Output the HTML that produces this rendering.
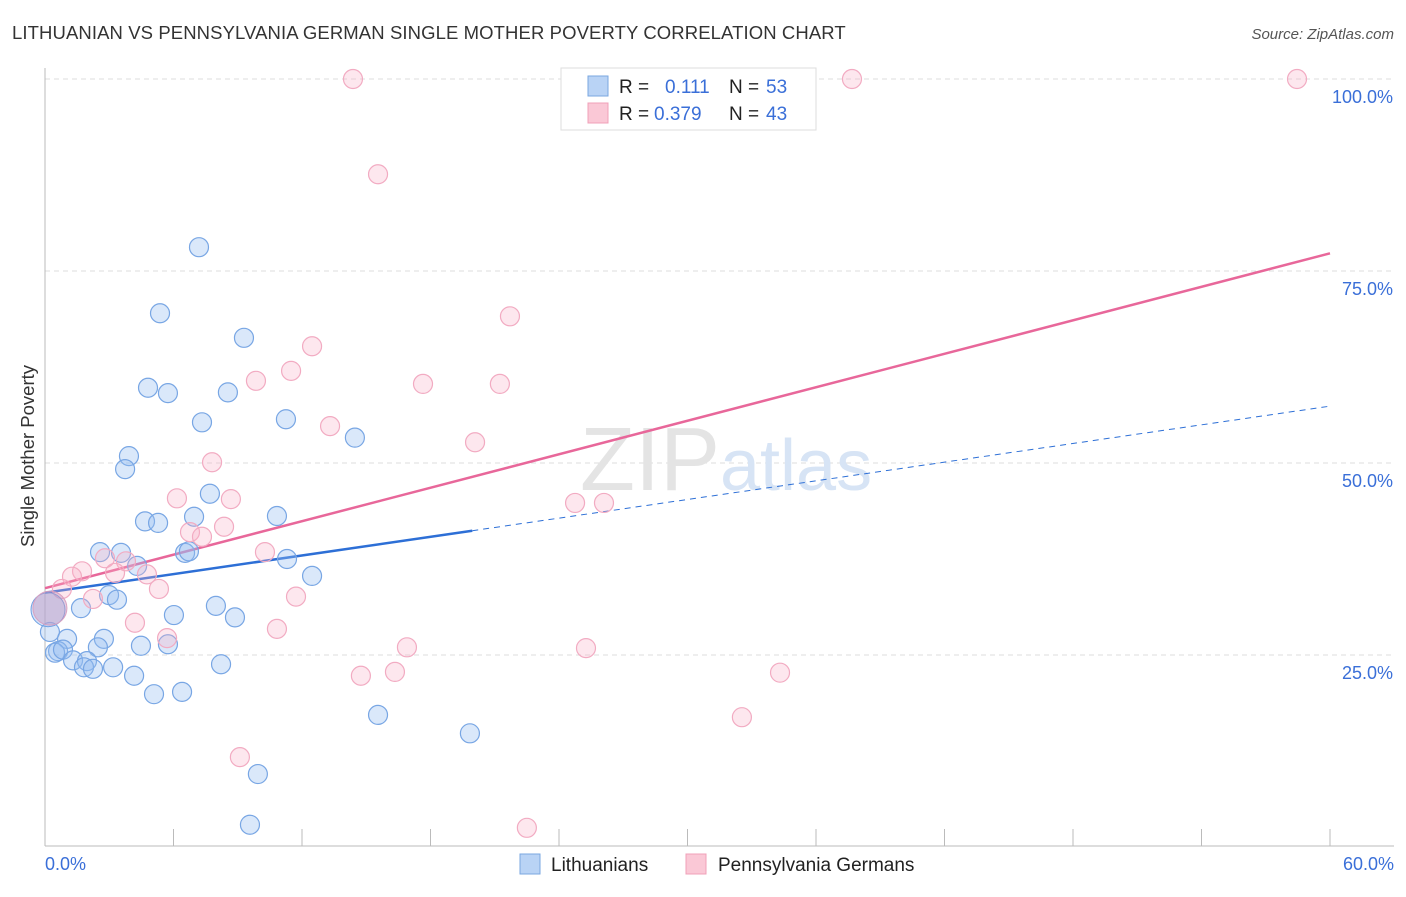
<!DOCTYPE html>
<html><head><meta charset="utf-8"><style>
body{margin:0;background:#fff;font-family:"Liberation Sans",sans-serif;}
svg text{font-family:"Liberation Sans",sans-serif;}
</style></head><body>
<svg id="chart" width="1406" height="892">
<text x="12" y="39" font-size="18.5" fill="#333" letter-spacing="0.1">LITHUANIAN VS PENNSYLVANIA GERMAN SINGLE MOTHER POVERTY CORRELATION CHART</text>
<text x="1394" y="39" font-size="15" fill="#555" font-style="italic" text-anchor="end">Source: ZipAtlas.com</text>
<text x="34" y="456" font-size="18.5" fill="#333" transform="rotate(-90 34 456)" text-anchor="middle">Single Mother Poverty</text>
<g id="grid"></g>
<text x="720" y="490" font-size="90" fill="#e4e4e4" font-family="Liberation Serif" text-anchor="end">ZIP</text>
<text x="720" y="490" font-size="72" fill="#d7e4f5">atlas</text>
<g id="trend"></g>
<g id="dots"></g>
<g>
<rect x="561" y="68" width="255" height="62" fill="#fff" stroke="#ddd"/>
<rect x="588" y="76" width="20" height="20" fill="#b9d3f5" stroke="#7aa7e0"/>
<rect x="588" y="103" width="20" height="20" fill="#fac8d6" stroke="#f0a0b8"/>
<text x="619" y="93" font-size="19" fill="#222">R = </text><text x="665" y="93" font-size="19" fill="#3a6fd8">0.111</text>
<text x="729" y="93" font-size="19" fill="#222">N = </text><text x="766" y="93" font-size="19" fill="#3a6fd8">53</text>
<text x="619" y="120" font-size="19" fill="#222">R = </text><text x="654" y="120" font-size="19" fill="#3a6fd8">0.379</text>
<text x="729" y="120" font-size="19" fill="#222">N = </text><text x="766" y="120" font-size="19" fill="#3a6fd8">43</text>
</g>
<g>
<rect x="520" y="854" width="20" height="20" fill="#b9d3f5" stroke="#7aa7e0"/>
<text x="551" y="871" font-size="19" fill="#222">Lithuanians</text>
<rect x="686" y="854" width="20" height="20" fill="#fac8d6" stroke="#f0a0b8"/>
<text x="718" y="871" font-size="19" fill="#222">Pennsylvania Germans</text>
</g>
</svg>
<script>
const yTicks=[25,50,75,100];
const xTickCount=10;
const blueX=[7.19,5.37,9.29,4.81,5.74,8.54,7.33,11.25,14.47,3.92,3.74,7.70,6.96,4.67,5.28,10.83,2.57,3.55,6.54,6.72,11.30,12.47,4.30,2.99,3.36,1.68,7.98,6.02,8.87,0.23,1.03,2.75,2.47,4.48,5.74,0.61,0.47,0.84,1.31,1.96,1.82,2.24,3.18,8.22,4.16,5.09,6.40,15.55,19.84,9.94,9.57];
const blueY=[78.1,69.5,66.3,59.8,59.1,59.2,55.3,55.7,53.3,50.9,49.2,46.0,43.0,42.4,42.2,43.1,38.4,38.3,38.3,38.5,37.5,35.3,36.6,32.8,32.2,31.1,31.4,30.2,29.9,28.0,27.1,27.1,26.0,26.2,26.4,25.5,25.3,25.7,24.3,24.2,23.4,23.2,23.4,23.8,22.3,19.9,20.2,17.2,14.8,9.5,2.9];
const pinkX=[14.38,37.68,58.46,15.55,21.71,12.47,11.49,9.85,17.65,21.24,13.31,20.08,7.80,6.16,8.68,8.36,6.77,7.33,24.75,26.10,10.27,2.80,3.78,1.73,1.26,3.27,4.76,0.79,5.32,2.24,11.72,4.20,10.83,5.70,16.90,25.26,14.75,16.34,34.32,32.54,9.10,22.50];
const pinkY=[100,100,100,87.6,69.1,65.2,62.0,60.7,60.3,60.3,54.8,52.7,50.1,45.4,45.3,41.7,41.0,40.4,44.8,44.8,38.4,37.6,37.2,35.9,35.2,35.7,35.5,33.6,33.6,32.3,32.6,29.2,28.4,27.2,26.0,25.9,22.3,22.8,22.7,16.9,11.7,2.5];
const bigBlue=[0.14,30.9];
const bigPink=[0.23,31.1];
const blueTrend=[33.1,57.4];
const blueSolidEnd=19.95;
const pinkTrend=[33.7,77.3];

const NS="http://www.w3.org/2000/svg";
const X=v=>45+v/60*1285;
const Y=v=>847-v*7.68;
function mk(tag,attrs,parent){const e=document.createElementNS(NS,tag);for(const k in attrs)e.setAttribute(k,attrs[k]);parent.appendChild(e);return e;}
const grid=document.getElementById('grid');
for(const t of yTicks){
  const l=mk('line',{x1:45,x2:1394,y1:Y(t),y2:Y(t),stroke:'#ddd','stroke-dasharray':'5,4'},grid);
  
  
  const tx=mk('text',{x:1393,y:Y(t)+24,'font-size':18,fill:'#3a6fd8','text-anchor':'end'},grid);
  tx.textContent=t.toFixed(1)+'%';
  
  
}
const ax=mk('line',{x1:45,x2:45,y1:68,y2:846,stroke:'#bbb'},grid);


const bx=mk('line',{x1:45,x2:1394,y1:846,y2:846,stroke:'#bbb'},grid);


for(let i=1;i<=xTickCount;i++){
  const tk=mk('line',{x1:X(i*6),x2:X(i*6),y1:829,y2:846,stroke:'#bbb'},grid);
  
  
}
const xl0=mk('text',{x:45,y:870,'font-size':18,fill:'#3a6fd8'},grid);xl0.textContent='0.0%';


const xl1=mk('text',{x:1394,y:870,'font-size':18,fill:'#3a6fd8','text-anchor':'end'},grid);xl1.textContent='60.0%';



const dots=document.getElementById('dots');
blueX.forEach((x,i)=>{const c=mk('circle',{cx:X(x),cy:Y(blueY[i]),r:9.5,fill:'rgba(150,190,240,0.35)',stroke:'#78a6e4','stroke-width':1.2},dots);

});
pinkX.forEach((x,i)=>{const c=mk('circle',{cx:X(x),cy:Y(pinkY[i]),r:9.5,fill:'rgba(248,175,198,0.3)',stroke:'#f2abc2','stroke-width':1.2},dots);

});
const bb=mk('circle',{cx:X(bigBlue[0]),cy:Y(bigBlue[1]),r:17,fill:'rgba(140,185,240,0.4)',stroke:'#6e9fe2'},dots);


const bp=mk('circle',{cx:X(bigPink[0]),cy:Y(bigPink[1]),r:17,fill:'rgba(200,150,190,0.45)',stroke:'#d9a0c0'},dots);



const tr=document.getElementById('trend');
const by=x=>blueTrend[0]+(blueTrend[1]-blueTrend[0])*x/60;
const l1=mk('line',{x1:X(0),y1:Y(by(0)),x2:X(blueSolidEnd),y2:Y(by(blueSolidEnd)),stroke:'#2d6fd6','stroke-width':2.5},tr);


const l2=mk('line',{x1:X(blueSolidEnd),y1:Y(by(blueSolidEnd)),x2:X(60),y2:Y(by(60)),stroke:'#2d6fd6','stroke-width':1,'stroke-dasharray':'6,5'},tr);


const l3=mk('line',{x1:X(0),y1:Y(pinkTrend[0]),x2:X(60),y2:Y(pinkTrend[1]),stroke:'#e8679a','stroke-width':2.5},tr);


</script>
</body></html>
